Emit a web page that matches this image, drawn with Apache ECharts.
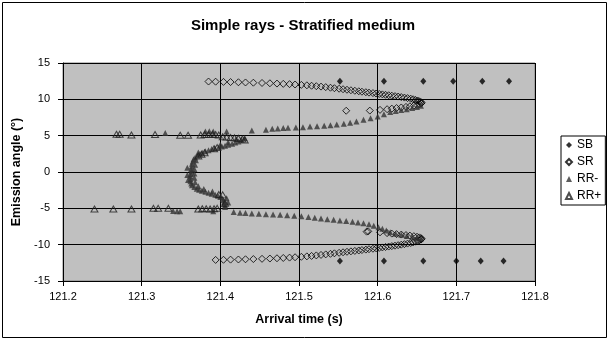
<!DOCTYPE html>
<html>
<head>
<meta charset="utf-8">
<script src="https://cdn.jsdelivr.net/npm/echarts@6/dist/echarts.min.js"></script>
<style>
  html, body { margin: 0; padding: 0; background: #fff; }
  #chart { width: 610px; height: 341px; }
</style>
</head>
<body>
<div id="chart"></div>
<script>
// Arrival time (s) versus emission angle (deg) for each ray family
const sbPoints = [
  [121.552, 12.5], [121.608, 12.5], [121.658, 12.5], [121.696, 12.5], [121.733, 12.5], [121.767, 12.5],
  [121.552, -12.25], [121.608, -12.25], [121.658, -12.25], [121.700, -12.25], [121.731, -12.25], [121.760, -12.25]
];

const srPoints = [
  // upper outer branch
  [121.385, 12.45], [121.394, 12.43], [121.404, 12.40], [121.413, 12.38], [121.423, 12.35],
  [121.432, 12.32], [121.442, 12.29], [121.453, 12.25], [121.463, 12.21], [121.472, 12.17],
  [121.480, 12.13], [121.488, 12.09], [121.495, 12.04], [121.503, 11.99], [121.510, 11.93],
  [121.516, 11.87], [121.522, 11.81], [121.528, 11.75], [121.534, 11.68], [121.540, 11.60],
  [121.545, 11.53], [121.551, 11.46], [121.556, 11.39], [121.561, 11.32], [121.566, 11.25],
  [121.571, 11.18], [121.576, 11.11], [121.580, 11.05], [121.585, 10.98], [121.589, 10.92],
  [121.594, 10.86], [121.598, 10.80], [121.602, 10.74], [121.606, 10.68], [121.610, 10.62],
  [121.614, 10.56], [121.618, 10.50], [121.622, 10.44], [121.626, 10.38], [121.630, 10.31],
  [121.634, 10.24], [121.638, 10.17], [121.642, 10.09], [121.645, 10.01], [121.648, 9.92],
  [121.651, 9.83], [121.653, 9.73], [121.655, 9.63], [121.656, 9.52],
  // upper inner branch
  [121.655, 9.42], [121.653, 9.32], [121.650, 9.22], [121.646, 9.13], [121.641, 9.04],
  [121.636, 8.96], [121.630, 8.88], [121.624, 8.80], [121.618, 8.72], [121.612, 8.64],
  [121.603, 8.55], [121.590, 8.45], [121.560, 8.43],
  // lower outer branch
  [121.394, -12.10], [121.404, -12.08], [121.413, -12.06], [121.423, -12.04], [121.432, -12.01],
  [121.442, -11.98], [121.453, -11.95], [121.463, -11.91], [121.472, -11.87], [121.480, -11.83],
  [121.488, -11.78], [121.495, -11.73], [121.503, -11.67], [121.510, -11.61], [121.516, -11.55],
  [121.522, -11.48], [121.528, -11.41], [121.534, -11.34], [121.540, -11.26], [121.545, -11.19],
  [121.551, -11.12], [121.556, -11.05], [121.561, -10.98], [121.566, -10.92], [121.571, -10.86],
  [121.576, -10.80], [121.580, -10.74], [121.585, -10.68], [121.589, -10.62], [121.594, -10.56],
  [121.598, -10.50], [121.602, -10.44], [121.606, -10.38], [121.610, -10.32], [121.614, -10.26],
  [121.618, -10.20], [121.622, -10.14], [121.626, -10.07], [121.630, -10.00], [121.634, -9.93],
  [121.638, -9.85], [121.642, -9.77], [121.645, -9.68], [121.648, -9.59], [121.651, -9.50],
  [121.653, -9.40], [121.655, -9.30], [121.656, -9.20],
  // lower inner branch
  [121.655, -9.10], [121.653, -9.00], [121.650, -8.91], [121.646, -8.83], [121.641, -8.75],
  [121.636, -8.68], [121.630, -8.61], [121.624, -8.55], [121.618, -8.48], [121.612, -8.41],
  [121.603, -8.30], [121.588, -8.17], [121.586, -8.21]
];

const rrMinusPoints = [
  // upper branch
  [121.655, 9.10], [121.650, 8.95], [121.644, 8.80], [121.637, 8.65], [121.630, 8.52],
  [121.623, 8.40], [121.616, 8.25], [121.608, 7.95], [121.600, 7.65], [121.591, 7.40],
  [121.582, 7.20], [121.573, 6.95], [121.565, 6.78], [121.557, 6.65], [121.548, 6.52],
  [121.540, 6.42], [121.532, 6.36], [121.523, 6.30], [121.514, 6.25], [121.505, 6.17],
  [121.496, 6.12], [121.486, 6.08], [121.480, 6.04], [121.473, 6.00], [121.466, 5.96],
  [121.458, 5.80], [121.440, 5.70],
  // scattered near +5.5
  [121.330, 5.35], [121.381, 5.58], [121.386, 5.62], [121.391, 5.58], [121.408, 5.58],
  // central fold
  [121.431, 4.68], [121.427, 4.45], [121.423, 4.21], [121.419, 4.05], [121.415, 3.89],
  [121.410, 3.75], [121.406, 3.62], [121.402, 3.50], [121.398, 3.38], [121.393, 3.27],
  [121.389, 3.16], [121.385, 3.00], [121.381, 2.84], [121.377, 2.66], [121.374, 2.47],
  [121.371, 2.24], [121.368, 2.01], [121.366, 1.74], [121.365, 1.46], [121.364, 1.12],
  [121.3635, 0.77], [121.363, 0.42], [121.363, 0.08], [121.3625, -0.26], [121.362, -0.60],
  [121.362, -0.95], [121.362, -1.29], [121.363, -1.57], [121.364, -1.84], [121.367, -2.08],
  [121.370, -2.30], [121.373, -2.45], [121.3765, -2.57], [121.381, -2.71], [121.385, -2.85],
  [121.389, -2.98], [121.3935, -3.12], [121.397, -3.28], [121.400, -3.44], [121.403, -3.67],
  [121.404, -3.90], [121.405, -4.13], [121.405, -4.36], [121.406, -4.58], [121.406, -4.81],
  // inner edge of the fold
  [121.372, 2.70], [121.369, 1.60], [121.368, 1.00], [121.367, 0.40], [121.367, -0.20],
  [121.367, -0.80], [121.368, -1.40], [121.372, -1.95], [121.379, -2.35], [121.390, -2.70],
  [121.358, 0.60], [121.358, -0.40], [121.359, -1.10],
  [121.420, 4.55], [121.410, 4.10], [121.400, 3.75], [121.408, -3.60], [121.410, -4.20],
  // scattered near -5.4
  [121.340, -5.35], [121.345, -5.40], [121.349, -5.40], [121.391, -5.40],
  // lower branch
  [121.417, -5.50], [121.425, -5.60], [121.432, -5.65], [121.440, -5.70], [121.449, -5.75],
  [121.458, -5.80], [121.467, -5.85], [121.476, -5.90], [121.485, -5.95], [121.494, -6.02],
  [121.503, -6.10], [121.512, -6.20], [121.520, -6.30], [121.528, -6.40], [121.536, -6.50],
  [121.544, -6.58], [121.552, -6.66], [121.560, -6.75], [121.568, -6.85], [121.575, -6.95],
  [121.582, -7.05], [121.589, -7.20], [121.595, -7.40], [121.601, -7.60], [121.606, -7.80],
  [121.611, -8.05], [121.616, -8.30], [121.623, -8.50], [121.630, -8.65], [121.637, -8.80],
  [121.644, -8.92], [121.650, -9.05], [121.655, -9.15]
];

const rrPlusPoints = [
  // near +5
  [121.268, 5.20], [121.272, 5.20], [121.287, 5.10], [121.317, 5.15], [121.349, 5.05],
  [121.359, 5.05], [121.375, 5.10], [121.380, 5.15], [121.385, 5.15], [121.390, 5.20],
  [121.394, 5.15], [121.398, 5.10], [121.403, 4.85], [121.408, 4.80], [121.413, 4.75],
  [121.418, 4.70], [121.423, 4.65], [121.428, 4.55], [121.431, 4.40],
  // along the fold
  [121.396, 3.35], [121.392, 3.20], [121.380, 2.65], [121.376, 2.45], [121.372, 2.20],
  [121.398, -3.10], [121.403, -3.15], [121.406, -4.30],
  // near -5
  [121.372, -5.10], [121.377, -5.05], [121.382, -5.05], [121.387, -5.10], [121.392, -5.05],
  [121.396, -5.00], [121.334, -5.00], [121.321, -5.00], [121.315, -5.00], [121.287, -5.10],
  [121.264, -5.10], [121.240, -5.10]
];

const timeRange = [121.2, 121.8];
const angleRange = [-15, 15];

const FONT = '"Liberation Sans", Arial, sans-serif';
const chart = echarts.init(document.getElementById('chart'), null, { renderer: 'canvas' });

chart.setOption({
  animation: false,
  backgroundColor: '#fff',
  title: {
    text: 'Simple rays - Stratified medium',
    left: 298, top: 13, textAlign: 'center',
    textStyle: { fontFamily: FONT, fontSize: 15, fontWeight: 'bold', color: '#000' }
  },
  graphic: [{
    type: 'rect', shape: { x: 2.5, y: 2.5, width: 604, height: 335 },
    style: { fill: 'none', stroke: '#000', lineWidth: 1 }, z: 100, silent: true
  }],
  grid: {
    left: 63, right: 75, top: 63, bottom: 60,
    show: true, backgroundColor: '#c0c0c0', borderColor: '#808080', borderWidth: 1
  },
  legend: {
    orient: 'vertical', left: 561, top: 136,
    itemWidth: 6, itemHeight: 6, itemGap: 5, itemTextGap: 4,
    padding: [3, 4, 3, 4],
    borderColor: '#000', borderWidth: 1, backgroundColor: '#fff',
    textStyle: { fontFamily: FONT, fontSize: 12, color: '#000' },
    data: ['SB', 'SR', 'RR-', 'RR+']
  },
  xAxis: {
    type: 'value', min: timeRange[0], max: timeRange[1], interval: 0.1,
    name: 'Arrival time (s)', nameLocation: 'middle', nameGap: 32,
    nameTextStyle: { fontFamily: FONT, fontSize: 12.5, fontWeight: 'bold', color: '#000' },
    axisLine: { show: true, onZero: false, lineStyle: { color: '#000', width: 1 } },
    axisTick: { show: true, length: 5, inside: false, lineStyle: { color: '#000' } },
    axisLabel: { fontFamily: FONT, fontSize: 11, color: '#000', margin: 10,
      formatter: v => v.toFixed(1) },
    splitLine: { show: true, lineStyle: { color: '#000', width: 1 } }
  },
  yAxis: {
    type: 'value', min: angleRange[0], max: angleRange[1], interval: 5,
    name: 'Emission angle (°)', nameLocation: 'middle', nameGap: 36, nameRotate: 90,
    nameTextStyle: { fontFamily: FONT, fontSize: 12.5, fontWeight: 'bold', color: '#000' },
    axisLine: { show: true, onZero: false, lineStyle: { color: '#000', width: 1 } },
    axisTick: { show: true, length: 5, inside: false, lineStyle: { color: '#000' } },
    axisLabel: { fontFamily: FONT, fontSize: 11, color: '#000', margin: 13 },
    splitLine: { show: true, lineStyle: { color: '#000', width: 1 } }
  },
  series: [
    {
      name: 'SB', type: 'scatter', data: sbPoints,
      symbol: 'diamond', symbolSize: [6, 7],
      itemStyle: { color: '#000' }
    },
    {
      name: 'SR', type: 'scatter', data: srPoints,
      symbol: 'diamond', symbolSize: [7, 7],
      itemStyle: { color: 'rgba(0,0,0,0)', borderColor: '#000', borderWidth: 1 }
    },
    {
      name: 'RR-', type: 'scatter', data: rrMinusPoints,
      symbol: 'triangle', symbolSize: [6, 6],
      itemStyle: { color: '#333333' }
    },
    {
      name: 'RR+', type: 'scatter', data: rrPlusPoints,
      symbol: 'triangle', symbolSize: [7, 6],
      itemStyle: { color: 'rgba(0,0,0,0)', borderColor: '#202020', borderWidth: 1 }
    }
  ]
});
</script>
</body>
</html>
